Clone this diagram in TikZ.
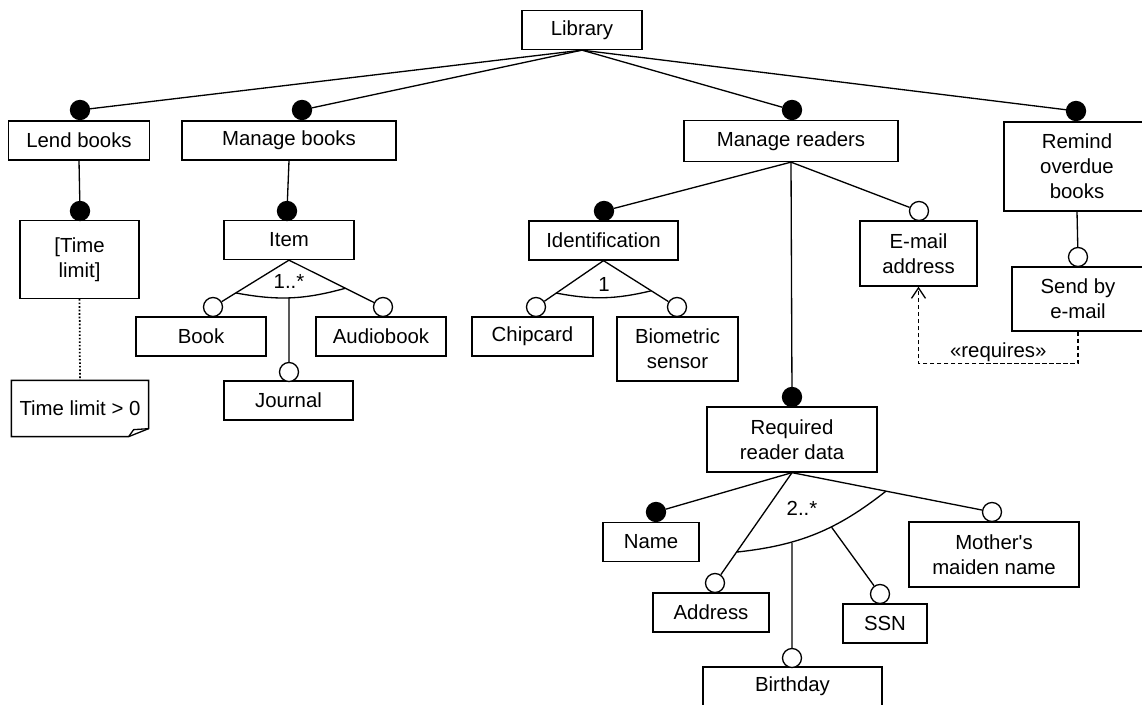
\documentclass[tikz,border=0pt]{standalone}
\usepackage{amsmath, amssymb}
\usepackage{fontspec}
\setmainfont{Liberation Sans}[Ligatures = TeXOff]
\usepackage{tikz}
\usetikzlibrary{calc, arrows.meta}

\begin{document}
\begin{tikzpicture}[x = .02cm, y = -.02cm, line width = .75pt,
        font = \fontsize{11.6}{14.2}\selectfont,
        feat/.style = {draw, rectangle, align = center, inner sep = 0pt, minimum height = .78cm},
        mand/.style = {circle, draw, fill = black, inner sep = 0pt, minimum size = .38cm},
        opt/.style = {circle, draw, fill = white, inner sep = 0pt, minimum size = .38cm},
        constr/.style = {dash pattern = on .9pt off 1.1pt, line width = 1pt},
        req/.style = {dash pattern = on 2.5pt off 1.5pt, -{Straight Barb[length = 6pt, width = 8pt]}}]
        \useasboundingbox (0,0) rectangle (1142,705);
        \node[feat, minimum width = 2.4cm] (lib) at (582,30) {Library};
        \node[feat, minimum width = 2.82cm] (lend) at (79,140.5) {Lend books};
        \node[feat, minimum width = 4.28cm] (mbooks) at (289,140.5) {Manage books};
        \node[feat, minimum width = 4.28cm, minimum height = .82cm] (mreaders) at (791,141) {Manage readers};
        \node[feat, minimum width = 2.92cm, minimum height = 1.78cm] (remind) at (1077,166.5) {Remind\\overdue\\books};
        \node[feat, minimum width = 2.38cm, minimum height = 1.56cm] (tlimit) at (79.5,259.5) {[Time\\limit]};
        \node[feat, minimum width = 2.6cm] (item) at (289,240) {Item};
        \node[feat, minimum width = 2.6cm] (book) at (201,336.5) {Book};
        \node[feat, minimum width = 2.6cm] (audio) at (381,336.5) {Audiobook};
        \node[feat, minimum width = 2.58cm] (journal) at (288.5,400.5) {Journal};
        \node[minimum width = 2.72cm, minimum height = 1.1cm, inner sep = 0pt] (note) at (80,408.5) {Time limit > 0};
        \node[feat, minimum width = 2.98cm] (ident) at (603.5,240.5) {Identification};
        \node[feat, minimum width = 2.42cm] (chip) at (532.5,336.5) {Chipcard};
        \node[feat, minimum width = 2.42cm, minimum height = 1.28cm] (bio) at (677.5,349) {Biometric\\sensor};
        \node[feat, minimum width = 2.34cm, minimum height = 1.3cm] (email) at (918.5,253.5) {E-mail\\address};
        \node[feat, minimum width = 2.64cm, minimum height = 1.28cm] (send) at (1078,299) {Send by\\e-mail};
        \node[feat, minimum width = 3.4cm, minimum height = 1.3cm] (reqdata) at (792,439.5) {Required\\reader data};
        \node[feat, minimum width = 1.92cm] (name) at (651,542) {Name};
        \node[feat, minimum width = 2.32cm] (address) at (711,612.5) {Address};
        \node[feat, minimum width = 1.68cm] (ssn) at (885,623.5) {SSN};
        \node[feat, minimum width = 3.4cm, minimum height = 1.3cm] (mother) at (994,554.5) {Mother's\\maiden name};
        \node[feat, minimum width = 3.58cm] (birthday) at (792.5,686.5) {Birthday};

        \node[mand] (lendc) at (80,110) {};
        \node[mand] (mbooksc) at (302,110) {};
        \node[mand] (mreadersc) at (792,110) {};
        \node[mand] (remindc) at (1076,111) {};
        \node[mand] (tlimitc) at (80,211) {};
        \node[mand] (itemc) at (287,211) {};
        \node[opt] (bookc) at (213,307) {};
        \node[opt] (audioc) at (383,307) {};
        \node[opt] (journalc) at (289,372) {};
        \node[mand] (identc) at (604,211) {};
        \node[opt] (chipc) at (536,307) {};
        \node[opt] (bioc) at (677,307) {};
        \node[opt] (emailc) at (919,211) {};
        \node[opt] (sendc) at (1078,257) {};
        \node[mand] (reqc) at (792,397) {};
        \node[mand] (namec) at (656,512) {};
        \node[opt] (addressc) at (715,583) {};
        \node[opt] (birthdayc) at (792,658) {};
        \node[opt] (ssnc) at (880,594) {};
        \node[opt] (motherc) at (992,512) {};

        \draw (lib.south) -- (lendc);
        \draw (lib.south) -- (mbooksc);
        \draw (lib.south) -- (mreadersc);
        \draw (lib.south) -- (remindc);
        \draw (lend.south) -- (tlimitc);
        \draw (mbooks.south) -- (itemc);
        \draw (item.south) -- (bookc);
        \draw ($(item.south)!.34!(journalc.center)$) -- (journalc);
        \draw (item.south) -- (audioc);
        \draw (mreaders.south) -- (identc);
        \draw (mreaders.south) -- (reqc);
        \draw (mreaders.south) -- (emailc);
        \draw (ident.south) -- (chipc);
        \draw (ident.south) -- (bioc);
        \draw (remind.south) -- (sendc);
        \draw (reqdata.south) -- (namec);
        \draw (reqdata.south) -- (addressc);
        \draw ($(reqdata.south)!.38!(birthdayc.center)$) -- (birthdayc);
        \draw ($(reqdata.south)!.45!(ssnc.center)$) -- (ssnc);
        \draw (reqdata.south) -- (motherc);

        \draw ($(item.south)!.7!(bookc.center)$) to[bend right = 13] ($(item.south)!.6!(audioc.center)$);
        \draw ($(ident.south)!.7!(chipc.center)$) to[bend right = 12] ($(ident.south)!.65!(bioc.center)$);
        \draw ($(reqdata.south)!.72!(addressc.center)$) to[bend right = 16] ($(reqdata.south)!.47!(motherc.center)$);
        \node (itemcard) at (289,281) {1..*};
        \node (identcard) at (604,284) {1};
        \node (reqcard) at (802,508) {2..*};

        \draw[constr] (tlimit.south) -- (note.north);
        \draw (note.north west) -- (note.north east) -- ([shift = {(0,-8)}]note.south east) -- ([shift = {(-20,0)}]note.south east) -- (note.south west) -- cycle;
        \draw ([shift = {(-20,0)}]note.south east) -- ([shift = {(-15,-7)}]note.south east) -- ([shift = {(0,-8)}]note.south east);

        \draw[req] (send.south) -- ++(0,32) -| (email.south) node[pos = .25, above, inner sep = 1pt] (reqlabel) {«requires»};
      \end{tikzpicture}
\end{document}
